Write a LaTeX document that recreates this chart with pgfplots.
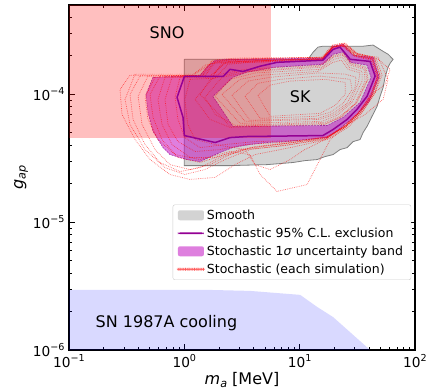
\documentclass[border=0pt]{standalone}
\usepackage{fontspec}
\setmainfont{DejaVu Sans}
\usepackage{pgfplots}
\pgfplotsset{compat=1.18}

\definecolor{mband}{rgb}{0.75,0,0.75}
\definecolor{mline}{rgb}{0.58,0,0.58}
\definecolor{skgray}{rgb}{0.827,0.827,0.827}
\definecolor{skedge}{rgb}{0.5,0.5,0.5}
\definecolor{simred}{rgb}{1,0.35,0.35}

% exponent for the tick labels
\newcommand{\tsup}[1]{\raisebox{5.6pt}{\fontsize{9.6}{10}\selectfont #1}}
% subscript for the axis labels
\newcommand{\lsub}[1]{\raisebox{-2.6pt}{\fontsize{11.2}{12}\selectfont\itshape #1}}

\pgfplotsset{
  sim/.style={red, dash pattern=on 0.7pt off 1.1pt, line width=0.7pt, opacity=0.6, forget plot},
  inner/.style={red, dash pattern=on 0.7pt off 1.1pt, line width=0.7pt, opacity=0.5, forget plot},
  bandedge/.style={mband!75!black, dash pattern=on 2pt off 1pt, line width=0.6pt, opacity=0.7, forget plot},
  patch legend/.style={legend image code/.code={\fill[##1] (0pt,-5pt) rectangle (26pt,5pt);}},
  bar line legend/.style={legend image code/.code={\fill[##1] (0pt,-0.8pt) rectangle (26pt,0.8pt);}},
  dot line legend/.style={legend image code/.code={%
    \foreach \k in {0,...,14} {\fill[##1] (\k*1.8pt,-0.4pt) rectangle ++(0.8pt,0.8pt);}}},
}

\begin{document}
\begin{tikzpicture}
\path[use as bounding box] (-69pt,-40pt) rectangle (360pt,350pt);
\begin{axis}[
  at={(0pt,0pt)}, anchor=south west,
  scale only axis, width=346pt, height=345pt,
  xmode=log, ymode=log,
  xmin=0.1, xmax=100, ymin=1e-6, ymax=5e-4,
  axis line style={line width=1.1pt},
  tick pos=both, tick align=inside,
  major tick length=6.5pt, minor tick length=3.5pt,
  every tick/.style={black, line width=0.8pt},
  xtick={0.1,1,10,100},
  xticklabels={10\tsup{−1},10\tsup{0},10\tsup{1},10\tsup{2}},
  minor xtick={0.2,0.3,0.4,0.5,0.6,0.7,0.8,0.9,2,3,4,5,6,7,8,9,20,30,40,50,60,70,80,90},
  ytick={1e-6,1e-5,1e-4},
  yticklabels={10\tsup{−6},10\tsup{−5},10\tsup{−4}},
  minor ytick={2e-6,3e-6,4e-6,5e-6,6e-6,7e-6,8e-6,9e-6,2e-5,3e-5,4e-5,5e-5,6e-5,7e-5,8e-5,9e-5,2e-4,3e-4,4e-4},
  tick label style={font=\fontsize{13.7}{16}\selectfont},
  xticklabel style={yshift=-1pt},
  yticklabel style={xshift=-1pt},
  label style={font=\fontsize{16}{19}\selectfont},
  xlabel={{\itshape m}\lsub{a} [MeV]},
  ylabel={{\itshape g}\lsub{ap}},
  xlabel style={yshift=2pt},
  ylabel style={yshift=-2pt},
  legend style={at={(0.989,0.203)}, anchor=south east,
    draw=black!20, rounded corners=2pt, fill=white,
    font=\fontsize{12.5}{15}\selectfont, inner xsep=5pt, inner ysep=3.5pt,
    row sep=4pt, nodes={inner xsep=3pt, inner ysep=1.5pt}},
  legend cell align=left,
]

% SN 1987A cooling bound
\addplot[fill=blue, fill opacity=0.15, draw=none, forget plot] coordinates {
  (0.1,1e-6) (0.1,2.96e-6) (1.45,2.96e-6) (3.71,2.9e-6) (10.1,2.70e-6)
  (14.2,2.17e-6) (19.5,1.81e-6) (40.8,1e-6)
};

% SK, smooth spectrum
\addplot[fill=skgray, draw=skedge, line width=0.8pt, forget plot] coordinates {
  (1.0,1.88e-4) (11.8,1.88e-4) (13.1,2.14e-4) (14.4,2.34e-4) (15.9,2.38e-4)
  (35.5,2.38e-4) (43.3,2.43e-4) (52.9,2.17e-4) (58.4,2.06e-4) (64.6,1.88e-4)
  (60.8,1.75e-4) (58.4,1.63e-4) (55.0,1.36e-4) (52.9,1.13e-4) (49.8,9.65e-5)
  (46.9,8.05e-5) (42.4,6.73e-5) (38.4,5.62e-5) (35.5,5.03e-5) (33.4,4.43e-5)
  (29.1,4.27e-5) (25.8,3.83e-5) (22.4,3.70e-5) (19.5,3.38e-5) (16.6,3.26e-5)
  (14.2,3.09e-5) (11.1,3.03e-5) (8.77,2.93e-5) (5.22,2.82e-5) (2.49,2.77e-5)
  (1.0,2.77e-5) (1.0,1.88e-4)
};

% stochastic 1 sigma band: outer contour, then the hole
\addplot[fill=mband, fill opacity=0.5, draw=none, even odd rule, forget plot] coordinates {
  (0.535,1.36e-4) (1.37,1.41e-4) (1.57,1.63e-4) (1.85,1.85e-4) (2.49,1.88e-4)
  (16.0,1.92e-4) (19.5,2.38e-4) (23.8,2.47e-4) (29.0,2.02e-4) (43.3,1.95e-4)
  (48.9,1.38e-4) (40.0,8.81e-5) (31.5,6.97e-5) (22.4,5.41e-5) (17.3,4.60e-5)
  (7.78,4.28e-5) (5.22,4.20e-5) (3.71,4.05e-5) (2.64,3.84e-5) (2.04,3.51e-5)
  (1.37,2.98e-5) (1.05,3.09e-5) (0.751,3.38e-5) (0.653,3.84e-5) (0.535,5.13e-5)
  (0.484,7.23e-5) (0.465,1.0e-4) (0.535,1.36e-4)
  (1.77,9.64e-5) (2.64,5.61e-5) (17.3,5.71e-5) (23.8,6.60e-5) (33.4,8.65e-5)
  (41.6,1.36e-4) (38.4,1.69e-4) (27.4,1.78e-4) (23.8,2.14e-4) (19.5,2.06e-4)
  (16.0,1.72e-4) (6.12,1.63e-4) (3.50,1.49e-4) (2.64,1.36e-4) (1.77,9.64e-5)
};
\addplot[bandedge] coordinates {
  (0.535,1.36e-4) (1.37,1.41e-4) (1.57,1.63e-4) (1.85,1.85e-4) (2.49,1.88e-4)
  (16.0,1.92e-4) (19.5,2.38e-4) (23.8,2.47e-4) (29.0,2.02e-4) (43.3,1.95e-4)
  (48.9,1.38e-4) (40.0,8.81e-5) (31.5,6.97e-5) (22.4,5.41e-5) (17.3,4.60e-5)
  (7.78,4.28e-5) (5.22,4.20e-5) (3.71,4.05e-5) (2.64,3.84e-5) (2.04,3.51e-5)
  (1.37,2.98e-5) (1.05,3.09e-5) (0.751,3.38e-5) (0.653,3.84e-5) (0.535,5.13e-5)
  (0.484,7.23e-5) (0.465,1.0e-4) (0.535,1.36e-4)
};
\addplot[bandedge] coordinates {
  (1.77,9.64e-5) (2.64,5.61e-5) (17.3,5.71e-5) (23.8,6.60e-5) (33.4,8.65e-5)
  (41.6,1.36e-4) (38.4,1.69e-4) (27.4,1.78e-4) (23.8,2.14e-4) (19.5,2.06e-4)
  (16.0,1.72e-4) (6.12,1.63e-4) (3.50,1.49e-4) (2.64,1.36e-4) (1.77,9.64e-5)
};

% SNO bound
\addplot[fill=red, fill opacity=0.25, draw=none, forget plot] coordinates {
  (0.1,4.59e-5) (5.65,4.59e-5) (5.65,6e-4) (0.1,6e-4)
};

% stochastic spectra, one contour per simulation (outer edges)
\addplot[sim] coordinates {(0.374,1.44e-4) (0.306,9.14e-5) (0.338,5.82e-5) (0.456,3.70e-5) (0.680,2.67e-5) (1.01,2.36e-5) (1.51,2.58e-5) (2.25,3.09e-5) (3.71,3.70e-5) (8.26,4.05e-5) (16.6,4.43e-5) (24.8,5.51e-5) (33.4,6.97e-5) (42.4,9.65e-5) (47.9,1.36e-4) (43.3,1.88e-4) (30.2,1.99e-4) (23.8,2.38e-4) (19.5,2.34e-4) (15.6,1.88e-4) (2.49,1.81e-4) (1.67,1.72e-4) (1.24,1.44e-4) (0.374,1.44e-4)};
\addplot[sim] coordinates {(0.413,1.39e-4) (0.338,1.00e-4) (0.359,6.37e-5) (0.456,4.05e-5) (0.615,2.93e-5) (0.918,2.49e-5) (1.37,2.67e-5) (2.04,3.21e-5) (3.36,3.70e-5) (7.47,3.97e-5) (16.6,4.51e-5) (24.8,5.62e-5) (34.8,7.36e-5) (43.3,1.00e-4) (49.8,1.39e-4) (45.1,1.88e-4) (31.4,2.06e-4) (24.8,2.47e-4) (19.5,2.38e-4) (15.9,1.95e-4) (2.75,1.88e-4) (1.74,1.81e-4) (1.37,1.41e-4) (0.413,1.39e-4)};
\addplot[sim] coordinates {(0.484,1.39e-4) (0.397,9.65e-5) (0.430,5.82e-5) (0.557,3.70e-5) (0.751,2.82e-5) (1.12,2.58e-5) (1.67,2.82e-5) (2.49,3.38e-5) (4.10,3.90e-5) (8.26,4.20e-5) (17.3,4.59e-5) (23.3,5.51e-5) (32.1,7.10e-5) (40.8,9.65e-5) (46.9,1.36e-4) (42.4,1.88e-4) (30.2,2.02e-4) (23.8,2.47e-4) (19.5,2.34e-4) (15.9,1.88e-4) (3.04,1.85e-4) (1.85,1.81e-4) (1.45,1.41e-4) (0.484,1.39e-4)};
\addplot[sim] coordinates {(0.557,1.36e-4) (0.456,9.47e-5) (0.484,6.37e-5) (0.591,4.43e-5) (0.830,3.38e-5) (1.37,3.09e-5) (2.49,3.57e-5) (3.71,3.38e-5) (4.54,2.36e-5) (6.37,1.74e-5) (11.6,1.97e-5) (15.0,3.09e-5) (18.4,4.43e-5) (24.8,5.51e-5) (33.4,7.23e-5) (42.4,9.82e-5) (47.9,1.39e-4) (43.3,1.88e-4) (30.8,2.02e-4) (23.8,2.43e-4) (19.5,2.34e-4) (15.6,1.92e-4) (3.04,1.81e-4) (1.85,1.78e-4) (1.51,1.39e-4) (0.557,1.36e-4)};
\addplot[sim] coordinates {(0.615,1.39e-4) (0.504,1.00e-4) (0.535,6.61e-5) (0.640,4.43e-5) (0.881,3.21e-5) (1.37,2.93e-5) (2.25,3.38e-5) (3.71,3.83e-5) (7.47,4.12e-5) (16.6,4.51e-5) (25.8,5.72e-5) (35.5,7.63e-5) (45.1,1.04e-4) (51.8,1.41e-4) (46.0,1.92e-4) (31.4,2.10e-4) (24.8,2.52e-4) (19.5,2.43e-4) (15.9,1.95e-4) (2.75,1.92e-4) (1.74,1.85e-4) (1.43,1.41e-4) (0.615,1.39e-4)};
\addplot[sim] coordinates {(0.680,1.36e-4) (0.591,9.14e-5) (0.640,5.82e-5) (0.782,4.05e-5) (1.12,3.21e-5) (1.85,3.21e-5) (3.04,3.70e-5) (5.54,3.97e-5) (10.1,4.27e-5) (17.6,4.68e-5) (24.8,5.62e-5) (33.4,7.36e-5) (41.6,9.82e-5) (46.9,1.36e-4) (41.6,1.85e-4) (29.6,1.99e-4) (23.8,2.38e-4) (19.5,2.29e-4) (15.6,1.85e-4) (3.71,1.78e-4) (2.25,1.75e-4) (1.67,1.39e-4) (0.680,1.36e-4)};
\addplot[sim] coordinates {(0.782,1.36e-4) (0.680,9.14e-5) (0.722,5.82e-5) (0.881,4.27e-5) (1.24,3.57e-5) (2.04,3.70e-5) (3.36,4.05e-5) (6.76,4.20e-5) (16.9,4.59e-5) (24.3,5.51e-5) (32.7,7.23e-5) (42.4,1.00e-4) (55.0,1.20e-4) (60.8,1.57e-4) (47.9,1.88e-4) (32.1,2.06e-4) (24.3,2.43e-4) (19.5,2.38e-4) (15.9,1.92e-4) (3.71,1.81e-4) (2.25,1.78e-4) (1.74,1.39e-4) (0.782,1.36e-4)};
\addplot[sim] coordinates {(0.918,1.36e-4) (0.830,9.47e-5) (0.881,6.37e-5) (1.01,4.59e-5) (1.37,3.83e-5) (2.25,4.05e-5) (4.10,4.27e-5) (10.1,4.35e-5) (17.3,4.68e-5) (24.3,5.62e-5) (36.9,6.97e-5) (52.9,9.14e-5) (58.4,1.31e-4) (47.9,1.95e-4) (30.8,2.06e-4) (24.3,2.43e-4) (19.5,2.34e-4) (15.9,1.88e-4) (3.36,1.81e-4) (2.12,1.75e-4) (1.74,1.36e-4) (0.918,1.36e-4)};
\addplot[sim] coordinates {(1.12,1.31e-4) (1.01,9.14e-5) (1.07,5.82e-5) (1.24,4.43e-5) (1.85,4.05e-5) (3.36,3.70e-5) (4.10,2.82e-5) (5.54,2.58e-5) (8.26,3.09e-5) (11.1,3.70e-5) (17.3,4.51e-5) (25.3,5.72e-5) (34.1,7.63e-5) (42.4,1.04e-4) (47.9,1.41e-4) (42.4,1.92e-4) (30.2,2.02e-4) (23.8,2.43e-4) (19.5,2.34e-4) (15.6,1.88e-4) (3.71,1.78e-4) (2.39,1.72e-4) (1.85,1.34e-4) (1.12,1.31e-4)};
\addplot[sim] coordinates {(0.338,1.41e-4) (0.277,1.09e-4) (0.288,6.97e-5) (0.374,4.43e-5) (0.504,3.09e-5) (0.751,2.36e-5) (1.12,2.16e-5) (1.85,2.24e-5) (2.75,2.82e-5) (4.10,3.38e-5) (8.26,3.83e-5) (17.3,4.43e-5) (26.3,5.51e-5) (35.5,7.36e-5) (45.1,1.02e-4) (49.8,1.41e-4) (44.2,1.95e-4) (30.8,2.10e-4) (24.3,2.52e-4) (19.2,2.43e-4) (15.6,1.95e-4) (2.49,1.88e-4) (1.51,1.69e-4) (1.17,1.41e-4) (0.338,1.41e-4)};

% stochastic spectra, inner edges of the excluded rings
\addplot[inner] coordinates {(1.24,9.14e-5) (1.85,1.41e-4) (3.36,1.57e-4) (15.0,1.69e-4) (19.5,2.02e-4) (23.8,2.10e-4) (28.5,1.75e-4) (37.6,1.63e-4) (39.2,1.31e-4) (31.4,8.65e-5) (22.4,6.61e-5) (16.6,5.82e-5) (2.49,5.51e-5) (1.67,6.37e-5) (1.24,9.14e-5)};
\addplot[inner] coordinates {(1.51,9.47e-5) (2.12,1.36e-4) (3.71,1.51e-4) (15.6,1.63e-4) (19.5,1.95e-4) (23.8,2.02e-4) (27.4,1.69e-4) (36.2,1.57e-4) (36.9,1.27e-4) (30.2,8.50e-5) (22.4,6.73e-5) (16.6,6.04e-5) (2.75,5.72e-5) (1.85,6.97e-5) (1.51,9.47e-5)};
\addplot[inner] coordinates {(1.85,9.65e-5) (2.49,1.31e-4) (4.10,1.47e-4) (15.0,1.57e-4) (19.9,1.88e-4) (23.3,1.95e-4) (26.9,1.63e-4) (34.8,1.51e-4) (34.8,1.27e-4) (28.5,8.65e-5) (21.1,6.85e-5) (15.6,6.15e-5) (3.04,5.93e-5) (1.85,9.65e-5)};
\addplot[inner] coordinates {(2.12,1.00e-4) (3.04,1.31e-4) (4.54,1.41e-4) (14.4,1.51e-4) (19.5,1.78e-4) (22.9,1.85e-4) (26.3,1.57e-4) (33.4,1.47e-4) (32.1,1.22e-4) (27.4,8.65e-5) (20.3,6.97e-5) (15.0,6.37e-5) (3.36,6.15e-5) (2.12,1.00e-4)};
\addplot[inner] coordinates {(2.59,9.82e-5) (3.57,1.27e-4) (5.54,1.36e-4) (14.4,1.47e-4) (24.8,1.44e-4) (30.8,1.36e-4) (30.2,1.13e-4) (25.8,8.50e-5) (19.5,7.10e-5) (14.4,6.49e-5) (3.71,6.26e-5) (2.59,9.82e-5)};
\addplot[inner] coordinates {(3.36,9.65e-5) (4.35,1.22e-4) (6.76,1.31e-4) (15.0,1.39e-4) (27.4,1.31e-4) (28.5,1.09e-4) (23.8,8.50e-5) (18.4,7.23e-5) (13.6,6.73e-5) (4.54,6.49e-5) (3.36,9.65e-5)};
\addplot[inner] coordinates {(1.37,1.00e-4) (1.67,1.31e-4) (3.04,1.51e-4) (15.0,1.66e-4) (19.9,1.99e-4) (23.8,2.06e-4) (28.0,1.72e-4) (36.9,1.60e-4) (38.4,1.29e-4) (30.8,8.50e-5) (22.9,6.61e-5) (16.9,5.93e-5) (2.49,5.62e-5) (1.37,1.00e-4)};
\addplot[inner] coordinates {(4.35,9.82e-5) (5.54,1.18e-4) (8.26,1.27e-4) (16.6,1.31e-4) (24.8,1.24e-4) (24.8,1.00e-4) (20.3,8.20e-5) (15.0,7.10e-5) (5.54,6.73e-5) (4.35,9.82e-5)};

% stochastic 95% C.L. exclusion contour
\addplot[mline, line width=1.5pt, forget plot] coordinates {
  (1.0,1.38e-4) (2.17,1.38e-4) (2.49,1.57e-4) (3.23,1.51e-4) (4.54,1.66e-4)
  (6.37,1.78e-4) (15.9,1.85e-4) (19.5,2.25e-4) (22.4,2.34e-4) (27.4,1.88e-4)
  (40.8,1.81e-4) (45.1,1.39e-4) (38.4,9.65e-5) (31.4,7.63e-5) (25.8,6.37e-5)
  (19.5,5.31e-5) (15.9,4.76e-5) (3.50,4.68e-5) (2.49,4.59e-5) (1.85,4.20e-5)
  (1.0,4.76e-5) (0.974,6.61e-5) (0.865,9.47e-5) (1.0,1.38e-4)
};

% region labels
\node[font=\fontsize{16}{19}\selectfont] at (axis cs:0.708,3.06e-4) {SNO};
\node[font=\fontsize{16}{19}\selectfont] at (axis cs:10.1,9.65e-5) {SK};
\node[font=\fontsize{16}{19}\selectfont] at (axis cs:0.70,1.63e-6) {SN 1987A cooling};

% legend
\addlegendimage{patch legend, fill=skgray, draw=none}
\addlegendentry{Smooth}
\addlegendimage{bar line legend, fill=mline, draw=none}
\addlegendentry{Stochastic 95\% C.L. exclusion}
\addlegendimage{patch legend, fill=mband, fill opacity=0.5, draw=none}
\addlegendentry{Stochastic 1\textit{σ} uncertainty band}
\addlegendimage{dot line legend, fill=simred, draw=none}
\addlegendentry{Stochastic (each simulation)}
\end{axis}
\end{tikzpicture}
\end{document}
